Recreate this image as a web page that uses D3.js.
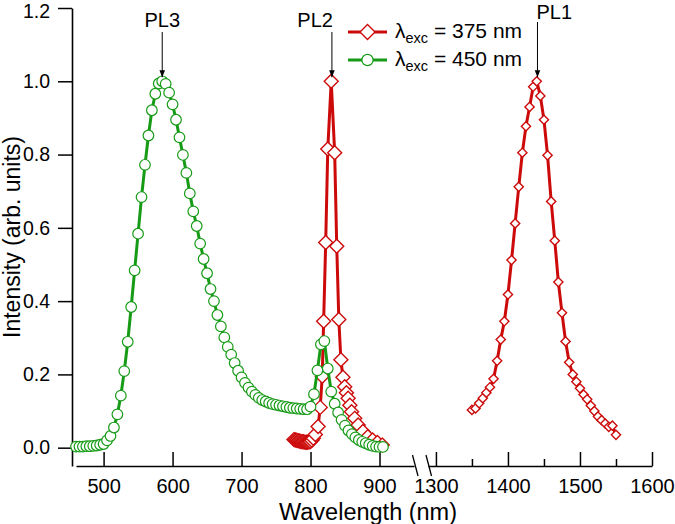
<!DOCTYPE html>
<html>
<head>
<meta charset="utf-8">
<script src="https://cdn.jsdelivr.net/npm/d3@7"></script>
<style>
  html, body { margin: 0; padding: 0; background: #fff; }
  svg { display: block; font-family: "Liberation Sans", Arial, sans-serif; }
</style>
</head>
<body>
<svg id="chart" width="675" height="524"></svg>
<script>
// ---------- data ----------
// λexc = 450 nm (green circles)
const greenX = [460,465,470,475,480,485,490,495,500,505,510,515,520,525,530,535,540,545,550,555,
  560,565,570,575,580,585,590,595,600,605,610,615,620,625,630,635,640,645,650,655,
  660,665,670,675,680,685,690,695,700,705,710,715,720,725,730,735,740,745,750,755,
  760,765,770,775,780,785,790,795,800,805,810,815,820,825,830,835,840,845,850,855,
  860,865,870,875,880,885,890,895,900,905];
const greenY = [0.003,0.003,0.003,0.004,0.004,0.005,0.006,0.008,0.010,0.020,0.032,0.055,0.091,0.142,0.209,0.289,0.384,0.484,0.584,0.684,
  0.772,0.852,0.921,0.966,0.994,1.000,0.993,0.969,0.937,0.895,0.847,0.799,0.750,0.694,0.645,0.605,0.557,0.515,0.476,0.433,
  0.400,0.362,0.331,0.301,0.275,0.254,0.231,0.210,0.192,0.177,0.164,0.153,0.144,0.136,0.130,0.126,0.122,0.119,0.117,0.115,
  0.113,0.111,0.109,0.108,0.107,0.106,0.105,0.105,0.112,0.146,0.211,0.282,0.291,0.216,0.153,0.120,0.096,0.076,0.060,0.047,
  0.037,0.028,0.021,0.016,0.012,0.008,0.005,0.003,0.002,0.002];

// λexc = 375 nm (red diamonds), visible/NIR part near PL2
const redAX = [776,778,780,782,784,786,788,790,792,794,796,798,800,802,804,807,811,814,817,819,
  822,825,830,835,838,841,844,847,849.5,852,854.5,857,859.5,864,869,876,883,890,897,904];
const redAY = [0.022,0.021,0.020,0.019,0.018,0.017,0.016,0.016,0.015,0.015,0.015,0.016,0.017,0.020,0.026,0.036,0.058,0.110,0.195,0.345,
  0.560,0.815,1.000,0.805,0.550,0.350,0.240,0.192,0.166,0.150,0.135,0.116,0.098,0.080,0.062,0.044,0.030,0.021,0.014,0.007];

// λexc = 375 nm (red diamonds), IR part near PL1
const redBX = [1350,1355,1360,1365,1370,1375,1380,1385,1390,1395,1400,1405,1410,1415,1420,1425,1430,1435,1440,
  1445,1450,1455,1460,1465,1470,1475,1480,1485,1490,1495,1500,1505,1510,1515,1520,1525,1530,1535,1540,1545,1550];
const redBY = [0.103,0.107,0.121,0.135,0.150,0.165,0.188,0.237,0.295,0.345,0.418,0.512,0.612,0.712,0.805,0.877,0.930,0.985,1.000,
  0.960,0.895,0.798,0.672,0.565,0.452,0.368,0.290,0.233,0.200,0.180,0.162,0.145,0.132,0.115,0.100,0.085,0.075,0.066,0.057,0.060,0.035];

const leftTicks = [500, 600, 700, 800, 900];
const rightTicks = [1300, 1400, 1500, 1600];
const rightMinorTicks = [1350, 1450, 1550];
const yTicks = [0.0, 0.2, 0.4, 0.6, 0.8, 1.0, 1.2];
const peakLabels = ["PL3", "PL2", "PL1"];
const peakX = [585, 831, 1441];
const legendLabels = ["375 nm", "450 nm"];

// ---------- layout ----------
const RED = "#cc0a0a";
const GREEN = "#179b17";
const svg = d3.select("#chart");

const xL = d3.scaleLinear().domain([460, 950]).range([76, 414]);
const xR = d3.scaleLinear().domain([1289, 1600]).range([428, 652]);
const y = d3.scaleLinear().domain([-0.05, 1.2]).range([466, 8]);
const axisY = 466;

// ---------- axes ----------
function styleAxis(g, fs) {
  g.selectAll("path.domain").attr("stroke", "#000").attr("stroke-width", 1.6);
  g.selectAll(".tick line").attr("stroke", "#000").attr("stroke-width", 1.5);
  g.selectAll(".tick text").attr("fill", "#000").style("font-size", fs + "px")
    .style("font-family", '"Liberation Sans", Arial, sans-serif');
}

const gxL = svg.append("g").attr("transform", `translate(0,${axisY})`)
  .call(d3.axisBottom(xL).tickValues(leftTicks).tickSize(-14).tickSizeOuter(0).tickPadding(13).tickFormat(d3.format("d")));
styleAxis(gxL, 20);

const gxR = svg.append("g").attr("transform", `translate(0,${axisY})`)
  .call(d3.axisBottom(xR).tickValues(rightTicks).tickSize(-14).tickSizeOuter(0).tickPadding(13).tickFormat(d3.format("d")));
styleAxis(gxR, 20);
const gxRm = svg.append("g").attr("transform", `translate(0,${axisY})`)
  .call(d3.axisBottom(xR).tickValues(rightMinorTicks).tickSize(-7).tickSizeOuter(0).tickFormat(""));
styleAxis(gxRm, 20);
gxRm.select("path.domain").remove();

const gy = svg.append("g").attr("transform", `translate(72,0)`)
  .call(d3.axisLeft(y).tickValues(yTicks).tickSize(14).tickSizeOuter(0).tickPadding(8).tickFormat(d3.format(".1f")));
styleAxis(gy, 19.5);
// keep the topmost label inside the picture
gy.selectAll(".tick text").filter(d => d === 1.2).attr("dy", "0.5em");

// axis break marks
const breakG = svg.append("g").attr("stroke", "#000").attr("stroke-width", 1.3);
[412.5, 426].forEach(bx => {
  breakG.append("line").attr("x1", bx).attr("y1", axisY - 11).attr("x2", bx + 5.5).attr("y2", axisY + 10);
});

// axis titles
svg.append("text").attr("x", 368).attr("y", 520).attr("text-anchor", "middle")
  .style("font-size", "23.5px").attr("fill", "#000").text("Wavelength (nm)");
svg.append("text").attr("transform", "translate(20,237) rotate(-90)").attr("text-anchor", "middle")
  .style("font-size", "23px").attr("fill", "#000").text("Intensity (arb. units)");

// ---------- series ----------
const diamond = s => `M0,${-s}L${s},0L0,${s}L${-s},0Z`;

function drawSeries(xs, ys, xScale, color, marker, size) {
  const pts = xs.map((d, i) => [xScale(d), y(ys[i])]);
  const g = svg.append("g");
  g.append("path").attr("d", d3.line()(pts)).attr("fill", "none")
    .attr("stroke", color).attr("stroke-width", 3).attr("stroke-linejoin", "round");
  if (marker === "diamond") {
    g.selectAll("path.m").data(pts).join("path").attr("class", "m")
      .attr("transform", d => `translate(${d[0]},${d[1]})`)
      .attr("d", diamond(size)).attr("fill", "#fff").attr("stroke", color).attr("stroke-width", 1.4);
  } else {
    g.selectAll("circle").data(pts).join("circle")
      .attr("cx", d => d[0]).attr("cy", d => d[1]).attr("r", size)
      .attr("fill", "#fff").attr("stroke", color).attr("stroke-width", 1.2);
  }
}

drawSeries(redAX, redAY, xL, RED, "diamond", 7);
drawSeries(redBX, redBY, xR, RED, "diamond", 4.6);
drawSeries(greenX, greenY, xL, GREEN, "circle", 5.3);

// ---------- peak annotations ----------
const defs = svg.append("defs");
defs.append("marker").attr("id", "arrow").attr("viewBox", "0 0 10 10")
  .attr("refX", 10).attr("refY", 5).attr("markerWidth", 7).attr("markerHeight", 7)
  .attr("markerUnits", "userSpaceOnUse").attr("orient", "auto")
  .append("path").attr("d", "M0,1 L10,5 L0,9 Z").attr("fill", "#000");

const annot = [
  { x: xL(peakX[0]), anchor: "middle", tx: 0, ty: 27, y1: 32 },
  { x: xL(peakX[1]), anchor: "end", tx: 1, ty: 27, y1: 32 },
  { x: xR(peakX[2]), anchor: "start", tx: -1, ty: 19, y1: 22 }
];
annot.forEach((a, i) => {
  svg.append("line").attr("x1", a.x).attr("x2", a.x).attr("y1", a.y1).attr("y2", y(1.0) - 4)
    .attr("stroke", "#000").attr("stroke-width", 1).attr("marker-end", "url(#arrow)");
  svg.append("text").attr("x", a.x + a.tx).attr("y", a.ty).attr("text-anchor", a.anchor)
    .style("font-size", "20px").attr("fill", "#000").text(peakLabels[i]);
});

// ---------- legend ----------
const legColors = [RED, GREEN];
const legRows = [32, 60];
legendLabels.forEach((lab, i) => {
  const ly = legRows[i];
  svg.append("line").attr("x1", 348).attr("x2", 387).attr("y1", ly).attr("y2", ly)
    .attr("stroke", legColors[i]).attr("stroke-width", 3);
  if (i === 0) {
    svg.append("path").attr("transform", `translate(367.5,${ly})`).attr("d", diamond(7.5))
      .attr("fill", "#fff").attr("stroke", RED).attr("stroke-width", 1.4);
  } else {
    svg.append("circle").attr("cx", 367.5).attr("cy", ly).attr("r", 5.6)
      .attr("fill", "#fff").attr("stroke", GREEN).attr("stroke-width", 1.2);
  }
  const t = svg.append("text").attr("x", 395).attr("y", ly + 6).style("font-size", "21px").attr("fill", "#000");
  t.append("tspan").text("λ");
  t.append("tspan").attr("dy", 5).style("font-size", "14.5px").text("exc");
  t.append("tspan").attr("dy", -5).text(" = " + lab);
});
</script>
</body>
</html>
